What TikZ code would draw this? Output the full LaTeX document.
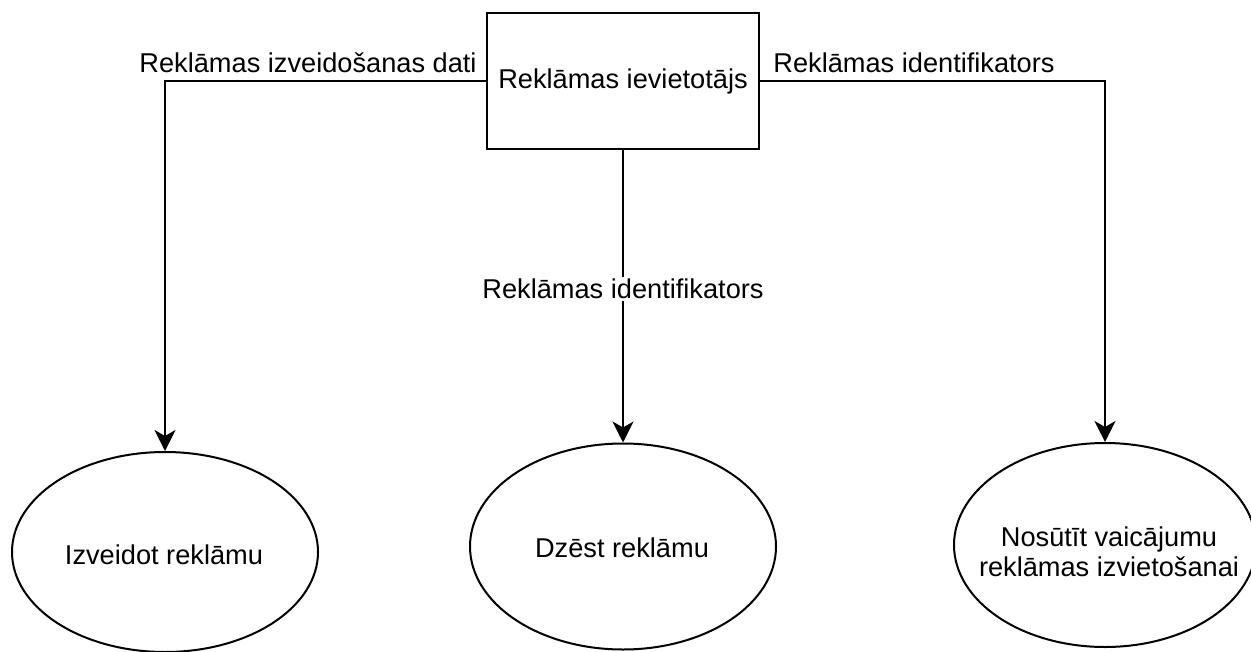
\documentclass[tikz,border=0pt]{standalone}
\usepackage{fontspec}
\setmainfont{Liberation Sans}
\usetikzlibrary{shapes.geometric,arrows.meta}
\begin{document}
\begin{tikzpicture}[x=0.5pt,y=-0.5pt,
  font=\fontsize{13.6}{15}\selectfont,
  actor/.style={draw,line width=1pt,minimum width=136pt,minimum height=68pt,inner sep=0pt},
  process/.style={draw,line width=1pt,ellipse,inner sep=0pt},
  flow/.style={line width=1pt,-{Stealth[length=10.5pt,width=10.5pt,inset=3pt]}},
  flowlabel/.style={fill=white,inner sep=1pt}]
\useasboundingbox (0,0) rectangle (1251,652);
% external entity
\node[actor] (src) at (623,81) {Reklāmas ievietotājs};
% processes
\node[process,minimum width=153pt,minimum height=100pt] (e1) at (165,552) {};
\node[process,minimum width=153pt,minimum height=103pt] (e2) at (623,546.5) {};
\node[process,minimum width=151pt,minimum height=102pt] (e3) at (1105,545) {};
\node (t1) at (164,555) {Izveidot reklāmu};
\node (t2) at (622,548) {Dzēst reklāmu};
\node[align=center] (t3) at (1109,552) {Nosūtīt vaicājumu\\reklāmas izvietošanai};
% data flows
\draw[flow] (src.west) -| (e1.north);
\draw[flow] (src.south) -- (e2.north);
\draw[flow] (src.east) -| (e3.north);
% flow labels
\node[flowlabel,anchor=east] (l1) at (479,63) {Reklāmas izveidošanas dati};
\node[flowlabel,anchor=west] (l3) at (771,63) {Reklāmas identifikators};
\node[flowlabel] (l2) at (623,289) {Reklāmas identifikators};
\end{tikzpicture}
\end{document}
